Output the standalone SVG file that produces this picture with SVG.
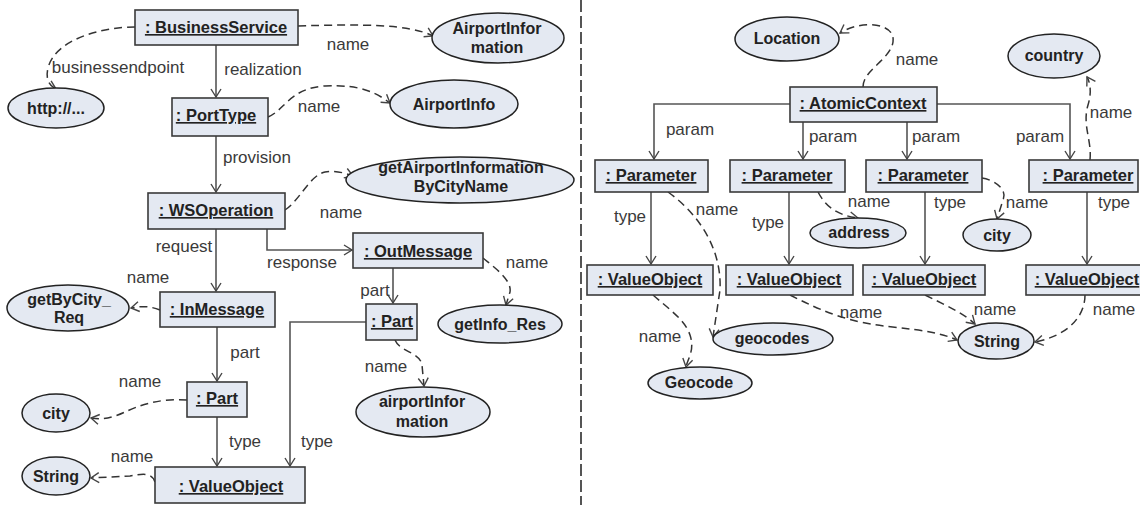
<svg xmlns="http://www.w3.org/2000/svg" width="1140" height="505" viewBox="0 0 1140 505">
<style>
.bx{fill:#e4e9f2;stroke:#3a3a3a;stroke-width:1.6}
.el{fill:#e4e9f2;stroke:#222;stroke-width:1.5}
.bt{font-family:"Liberation Sans",Arial,sans-serif;font-size:16.5px;font-weight:bold;fill:#222;text-anchor:middle;text-decoration:underline}
.et{font-family:"Liberation Sans",Arial,sans-serif;font-size:16px;font-weight:bold;fill:#222;text-anchor:middle}
.lb{font-family:"Liberation Sans",Arial,sans-serif;font-size:17px;fill:#3a3a3a;text-anchor:middle}
.sl{fill:none;stroke:#555;stroke-width:1.6;marker-end:url(#ar)}
.dl{fill:none;stroke:#333;stroke-width:1.5;stroke-dasharray:8 5;marker-end:url(#ar)}
</style>
<defs>
<marker id="ar" markerUnits="userSpaceOnUse" markerWidth="12" markerHeight="12" refX="10" refY="6" orient="auto">
<path d="M2,1 L10,6 L2,11" fill="none" stroke="#444" stroke-width="1.4"/>
</marker>
</defs>
<rect width="1140" height="505" fill="#fff"/>
<line x1="581" y1="0" x2="581" y2="505" stroke="#555" stroke-width="2" stroke-dasharray="12 4"/>

<g id="connectors">
<path class="sl" d="M216,45 L216,97"/>
<path class="sl" d="M216,136 L216,192"/>
<path class="sl" d="M216,229 L216,291"/>
<path class="sl" d="M267,229 L267,250 L352,250"/>
<path class="sl" d="M393,268 L393,303"/>
<path class="sl" d="M366,322 L290,322 L290,466"/>
<path class="sl" d="M217,327 L217,381"/>
<path class="sl" d="M217,417 L217,466"/>
<path class="sl" d="M790,104 L654,104 L654,159"/>
<path class="sl" d="M803,122 L803,159"/>
<path class="sl" d="M907,122 L907,159"/>
<path class="sl" d="M937,104 L1070,104 L1070,159"/>
<path class="sl" d="M651,192 L651,264"/>
<path class="sl" d="M789,192 L789,264"/>
<path class="sl" d="M925,192 L925,264"/>
<path class="sl" d="M1087,192 L1087,264"/>

<path class="dl" d="M298,26 C360,24 410,24 433,36"/>
<path class="dl" d="M135,27 C100,27 55,40 48,68 C45,80 50,86 56,89"/>
<path class="dl" d="M268,117 C285,110 290,88 325,86 C362,84 378,94 390,103"/>
<path class="dl" d="M285,210 C300,200 310,175 325,172 C335,170 345,173 353,176"/>
<path class="dl" d="M160,310 C150,306 142,306 131,308"/>
<path class="dl" d="M483,258 C495,268 512,280 510,292 L506,305"/>
<path class="dl" d="M395,340 C400,352 420,352 422,365 L424,386"/>
<path class="dl" d="M187,400 C160,398 140,405 125,412 C112,418 102,420 91,418"/>
<path class="dl" d="M155,482 C152,472 142,474 130,476 L91,478"/>
<path class="dl" d="M863,87 C863,70 890,60 893,42 C896,22 860,20 840,33"/>
<path class="dl" d="M668,192 C700,215 722,250 720,290 L713,337"/>
<path class="dl" d="M653,295 C670,310 685,320 690,335 C695,350 688,358 686,367"/>
<path class="dl" d="M818,192 C825,205 835,215 858,218"/>
<path class="dl" d="M982,178 C995,180 1008,190 1003,200 L997,219"/>
<path class="dl" d="M790,295 C810,305 830,315 860,322 C900,330 930,328 957,340"/>
<path class="dl" d="M925,295 C945,305 962,312 975,324"/>
<path class="dl" d="M1085,295 C1085,315 1070,335 1035,342"/>
<path class="dl" d="M1090,160 C1092,140 1082,125 1088,105 C1092,92 1090,82 1087,77"/>

<text class="lb" x="348" y="50">name</text>
<text class="lb" x="263" y="75">realization</text>
<text class="lb" x="118" y="73">businessendpoint</text>
<text class="lb" x="319" y="112">name</text>
<text class="lb" x="257" y="163">provision</text>
<text class="lb" x="341" y="218">name</text>
<text class="lb" x="184" y="252">request</text>
<text class="lb" x="302" y="268">response</text>
<text class="lb" x="148" y="283">name</text>
<text class="lb" x="527" y="268">name</text>
<text class="lb" x="375" y="296">part</text>
<text class="lb" x="245" y="358">part</text>
<text class="lb" x="140" y="387">name</text>
<text class="lb" x="245" y="447">type</text>
<text class="lb" x="132" y="462">name</text>
<text class="lb" x="317" y="447">type</text>
<text class="lb" x="386" y="372">name</text>
<text class="lb" x="917" y="65">name</text>
<text class="lb" x="690" y="135">param</text>
<text class="lb" x="833" y="142">param</text>
<text class="lb" x="936" y="142">param</text>
<text class="lb" x="1040" y="142">param</text>
<text class="lb" x="630" y="222">type</text>
<text class="lb" x="768" y="228">type</text>
<text class="lb" x="950" y="208">type</text>
<text class="lb" x="1114" y="208">type</text>
<text class="lb" x="717" y="215">name</text>
<text class="lb" x="660" y="342">name</text>
<text class="lb" x="869" y="207">name</text>
<text class="lb" x="1027" y="208">name</text>
<text class="lb" x="1111" y="118">name</text>
<text class="lb" x="861" y="318">name</text>
<text class="lb" x="995" y="315">name</text>
<text class="lb" x="1114" y="315">name</text>
</g>

<g id="businessService"><rect class="bx" x="135" y="10" width="163" height="35"/><text class="bt" x="216" y="33">: BusinessService</text></g>
<g id="portType"><rect class="bx" x="172" y="98" width="96" height="38"/><text class="bt" x="216" y="121">: PortType</text></g>
<g id="wsOperation"><rect class="bx" x="148" y="193" width="137" height="36"/><text class="bt" x="216" y="216">: WSOperation</text></g>
<g id="inMessage"><rect class="bx" x="160" y="292" width="115" height="35"/><text class="bt" x="217" y="315">: InMessage</text></g>
<g id="outMessage"><rect class="bx" x="353" y="233" width="130" height="35"/><text class="bt" x="418" y="257">: OutMessage</text></g>
<g id="partRight"><rect class="bx" x="366" y="304" width="51" height="36"/><text class="bt" x="392" y="327">: Part</text></g>
<g id="partLeft"><rect class="bx" x="187" y="382" width="60" height="35"/><text class="bt" x="217" y="404">: Part</text></g>
<g id="valueObjectLeft"><rect class="bx" x="155" y="467" width="150" height="36"/><text class="bt" x="231" y="492">: ValueObject</text></g>

<g id="airportInformation"><ellipse class="el" cx="498" cy="38" rx="66" ry="25"/><text class="et" x="497" y="34">AirportInfor</text><text class="et" x="497" y="53">mation</text></g>
<g id="http"><ellipse class="el" cx="56" cy="108" rx="48" ry="20"/><text class="et" x="56" y="114">http://...</text></g>
<g id="airportInfo"><ellipse class="el" cx="454" cy="104" rx="64" ry="24"/><text class="et" x="454" y="110">AirportInfo</text></g>
<g id="getAirportInformationByCityName"><ellipse class="el" cx="460" cy="180" rx="114" ry="23"/><text class="et" x="461" y="173">getAirportInformation</text><text class="et" x="461" y="192">ByCityName</text></g>
<g id="getByCityReq"><ellipse class="el" cx="68" cy="308" rx="61" ry="23"/><text class="et" x="69" y="305">getByCity_</text><text class="et" x="69" y="323">Req</text></g>
<g id="getInfoRes"><ellipse class="el" cx="500" cy="324" rx="62" ry="19"/><text class="et" x="500" y="330">getInfo_Res</text></g>
<g id="airportInformationLower"><ellipse class="el" cx="423" cy="412" rx="67" ry="25"/><text class="et" x="422" y="407">airportInfor</text><text class="et" x="422" y="427">mation</text></g>
<g id="cityLeft"><ellipse class="el" cx="56" cy="413" rx="34" ry="19"/><text class="et" x="56" y="419">city</text></g>
<g id="stringLeft"><ellipse class="el" cx="56" cy="476" rx="34" ry="19"/><text class="et" x="56" y="482">String</text></g>

<g id="atomicContext"><rect class="bx" x="790" y="87" width="147" height="35"/><text class="bt" x="863" y="109">: AtomicContext</text></g>
<g id="parameter1"><rect class="bx" x="595" y="160" width="113" height="32"/><text class="bt" x="651" y="181">: Parameter</text></g>
<g id="parameter2"><rect class="bx" x="730" y="160" width="115" height="32"/><text class="bt" x="787" y="181">: Parameter</text></g>
<g id="parameter3"><rect class="bx" x="866" y="160" width="116" height="32"/><text class="bt" x="923" y="181">: Parameter</text></g>
<g id="parameter4"><rect class="bx" x="1029" y="160" width="109" height="32"/><text class="bt" x="1088" y="181">: Parameter</text></g>
<g id="valueObject1"><rect class="bx" x="587" y="265" width="126" height="30"/><text class="bt" x="650" y="285">: ValueObject</text></g>
<g id="valueObject2"><rect class="bx" x="726" y="265" width="127" height="30"/><text class="bt" x="789" y="285">: ValueObject</text></g>
<g id="valueObject3"><rect class="bx" x="863" y="265" width="122" height="30"/><text class="bt" x="924" y="285">: ValueObject</text></g>
<g id="valueObject4"><rect class="bx" x="1026" y="265" width="115" height="30"/><text class="bt" x="1087" y="285">: ValueObject</text></g>

<g id="location"><ellipse class="el" cx="787" cy="39" rx="52" ry="22"/><text class="et" x="787" y="44">Location</text></g>
<g id="country"><ellipse class="el" cx="1054" cy="56" rx="46" ry="22"/><text class="et" x="1054" y="61">country</text></g>
<g id="address"><ellipse class="el" cx="858" cy="233" rx="48" ry="15"/><text class="et" x="859" y="238">address</text></g>
<g id="cityRight"><ellipse class="el" cx="997" cy="235" rx="34" ry="16"/><text class="et" x="997" y="241">city</text></g>
<g id="geocodes"><ellipse class="el" cx="773" cy="339" rx="60" ry="16"/><text class="et" x="772" y="344">geocodes</text></g>
<g id="geocode"><ellipse class="el" cx="700" cy="383" rx="52" ry="16"/><text class="et" x="699" y="388">Geocode</text></g>
<g id="stringRight"><ellipse class="el" cx="996" cy="341" rx="38" ry="18"/><text class="et" x="997" y="347">String</text></g>
</svg>
